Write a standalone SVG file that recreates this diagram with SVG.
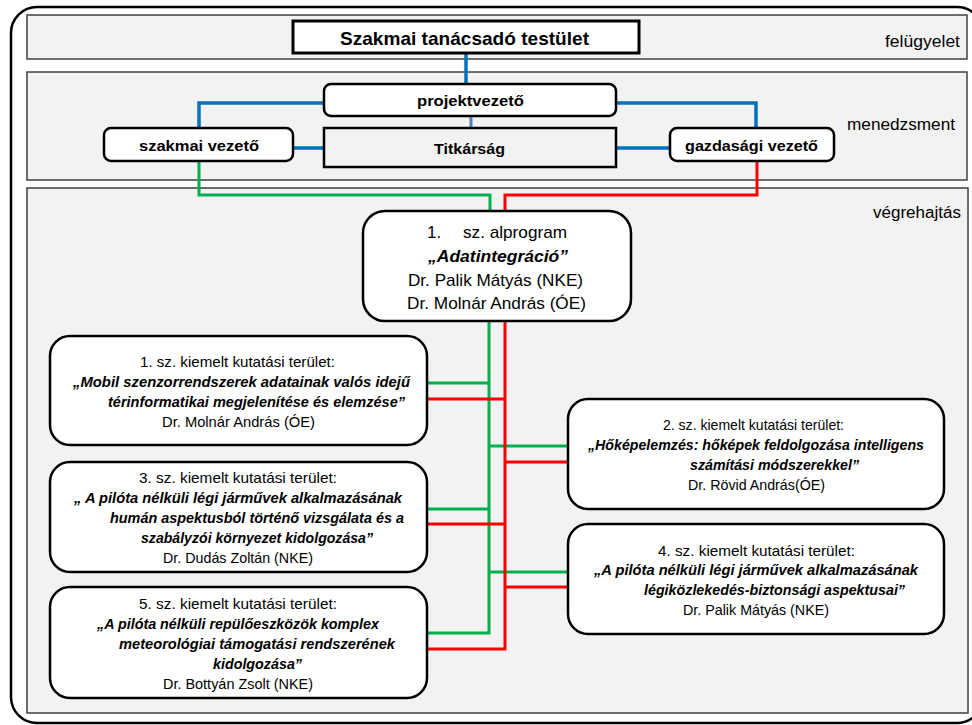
<svg xmlns="http://www.w3.org/2000/svg" width="972" height="725" viewBox="0 0 972 725">
  <style>
    text { font-family: "Liberation Sans", Arial, sans-serif; fill: #000; }
    .band { fill: #f2f2f2; stroke: #404040; stroke-width: 1.5; }
    .box { fill: #fff; stroke: #000; stroke-width: 2.5; }
    .grey { fill: #f2f2f2; stroke: #000; stroke-width: 2.5; }
    .hdr { font-weight: bold; font-size: 15.5px; }
    .lvl { font-size: 16px; }
    .reg { font-size: 15px; }
    .ttl { font-size: 15px; font-weight: bold; font-style: italic; }
    .alp { font-size: 17px; }
    .blue { fill: none; stroke: #0070c0; stroke-width: 3.5; }
    .blue2 { fill: none; stroke: #4f81bd; stroke-width: 3; }
    .green { fill: none; stroke: #00b050; stroke-width: 3; }
    .red { fill: none; stroke: #ff0000; stroke-width: 3; }
  </style>

  <!-- outer frame -->
  <rect x="11" y="7" width="972" height="716" rx="26" fill="#fff" stroke="#000" stroke-width="2.5"/>

  <!-- level bands -->
  <g id="band-felugyelet">
    <rect class="band" x="27" y="15" width="940" height="44"/>
    <text class="lvl" x="885" y="47" textLength="75" lengthAdjust="spacingAndGlyphs">felügyelet</text>
  </g>
  <g id="band-menedzsment">
    <rect class="band" x="27" y="72" width="940" height="108"/>
    <text class="lvl" x="847" y="130" textLength="108" lengthAdjust="spacingAndGlyphs">menedzsment</text>
  </g>
  <g id="band-vegrehajtas">
    <rect class="band" x="27" y="188" width="941" height="525"/>
    <text class="lvl" x="873" y="218" textLength="88" lengthAdjust="spacingAndGlyphs">végrehajtás</text>
  </g>

  <!-- connectors -->
  <g id="connectors">
    <path class="blue" d="M466,53 V84"/>
    <path class="blue" d="M324,103 H199 V128"/>
    <path class="blue" d="M616,103 H756 V128"/>
    <path class="blue" d="M293,148 H324"/>
    <path class="blue" d="M616,148 H670"/>
    <path class="blue2" d="M471,116 V128"/>

    <path class="green" d="M199,161 V195 H490 V211"/>
    <path class="green" d="M489,321 V633 H427"/>
    <path class="green" d="M427,383 H489"/>
    <path class="green" d="M489,446 H568"/>
    <path class="green" d="M427,509 H489"/>
    <path class="green" d="M489,572 H568"/>

    <path class="red" d="M757,161 V195 H505 V211"/>
    <path class="red" d="M505,321 V649 H427"/>
    <path class="red" d="M427,399 H505"/>
    <path class="red" d="M505,462 H568"/>
    <path class="red" d="M427,524 H505"/>
    <path class="red" d="M505,587 H568"/>
  </g>

  <!-- management nodes -->
  <g id="testulet">
    <rect x="293" y="21" width="346" height="32" fill="#fff" stroke="#000" stroke-width="3"/>
    <text x="340" y="45" font-size="19" font-weight="bold" textLength="249" lengthAdjust="spacingAndGlyphs">Szakmai tanácsadó testület</text>
  </g>
  <g id="projektvezeto">
    <rect class="box" x="324" y="84" width="292" height="32" rx="7"/>
    <text class="hdr" x="417" y="106" textLength="107" lengthAdjust="spacingAndGlyphs">projektvezető</text>
  </g>
  <g id="titkarsag">
    <rect class="grey" x="324" y="128" width="292" height="39"/>
    <text class="hdr" x="434" y="154" textLength="71" lengthAdjust="spacingAndGlyphs">Titkárság</text>
  </g>
  <g id="szakmai-vezeto">
    <rect class="box" x="104" y="128" width="189" height="33" rx="7"/>
    <text class="hdr" x="139" y="151" textLength="120" lengthAdjust="spacingAndGlyphs">szakmai vezető</text>
  </g>
  <g id="gazdasagi-vezeto">
    <rect class="box" x="670" y="128" width="164" height="33" rx="7"/>
    <text class="hdr" x="685" y="151" textLength="133" lengthAdjust="spacingAndGlyphs">gazdasági vezető</text>
  </g>

  <!-- sub-programme -->
  <g id="alprogram">
    <rect class="box" x="363" y="211" width="268" height="110" rx="22"/>
    <text class="alp" y="238"><tspan x="427">1.</tspan><tspan x="463" textLength="104" lengthAdjust="spacingAndGlyphs">sz. alprogram</tspan></text>
    <text class="alp" x="428" y="262" font-weight="bold" font-style="italic" textLength="140" lengthAdjust="spacingAndGlyphs">„Adatintegráció”</text>
    <text class="alp" x="408" y="286" textLength="175" lengthAdjust="spacingAndGlyphs">Dr. Palik Mátyás (NKE)</text>
    <text class="alp" x="407" y="309" textLength="179" lengthAdjust="spacingAndGlyphs">Dr. Molnár András (ÓE)</text>
  </g>

  <!-- research areas -->
  <g id="terulet-1">
    <rect class="box" x="50" y="336" width="377" height="109" rx="20"/>
    <text class="reg" x="140" y="367" textLength="195" lengthAdjust="spacingAndGlyphs">1. sz. kiemelt kutatási terület:</text>
    <text class="ttl" x="73" y="387" textLength="337" lengthAdjust="spacingAndGlyphs">„Mobil szenzorrendszerek adatainak valós idejű</text>
    <text class="ttl" x="108" y="407" textLength="297" lengthAdjust="spacingAndGlyphs">térinformatikai megjelenítése és elemzése”</text>
    <text class="reg" x="162" y="427" textLength="153" lengthAdjust="spacingAndGlyphs">Dr. Molnár András (ÓE)</text>
  </g>
  <g id="terulet-2">
    <rect class="box" x="568" y="399" width="376" height="110" rx="20"/>
    <text class="reg" x="663" y="430" textLength="181" lengthAdjust="spacingAndGlyphs">2. sz. kiemelt kutatási terület:</text>
    <text class="ttl" x="588" y="450" textLength="336" lengthAdjust="spacingAndGlyphs">„Hőképelemzés: hőképek feldolgozása intelligens</text>
    <text class="ttl" x="690" y="470" textLength="169" lengthAdjust="spacingAndGlyphs">számítási módszerekkel”</text>
    <text class="reg" x="688" y="490" textLength="137" lengthAdjust="spacingAndGlyphs">Dr. Rövid András(ÓE)</text>
  </g>
  <g id="terulet-3">
    <rect class="box" x="50" y="462" width="377" height="110" rx="20"/>
    <text class="reg" x="139" y="483" textLength="198" lengthAdjust="spacingAndGlyphs">3. sz. kiemelt kutatási terület:</text>
    <text class="ttl" x="74" y="503" textLength="328" lengthAdjust="spacingAndGlyphs">„ A pilóta nélküli légi járművek alkalmazásának</text>
    <text class="ttl" x="110" y="523" textLength="294" lengthAdjust="spacingAndGlyphs">humán aspektusból történő vizsgálata és a</text>
    <text class="ttl" x="141" y="543" textLength="232" lengthAdjust="spacingAndGlyphs">szabályzói környezet kidolgozása”</text>
    <text class="reg" x="163" y="563" textLength="150" lengthAdjust="spacingAndGlyphs">Dr. Dudás Zoltán (NKE)</text>
  </g>
  <g id="terulet-4">
    <rect class="box" x="568" y="524" width="376" height="110" rx="20"/>
    <text class="reg" x="658" y="556" textLength="197" lengthAdjust="spacingAndGlyphs">4. sz. kiemelt kutatási terület:</text>
    <text class="ttl" x="594" y="575" textLength="324" lengthAdjust="spacingAndGlyphs">„A pilóta nélküli légi járművek alkalmazásának</text>
    <text class="ttl" x="644" y="595" textLength="261" lengthAdjust="spacingAndGlyphs">légiközlekedés-biztonsági aspektusai”</text>
    <text class="reg" x="683" y="615" textLength="146" lengthAdjust="spacingAndGlyphs">Dr. Palik Mátyás (NKE)</text>
  </g>
  <g id="terulet-5">
    <rect class="box" x="50" y="587" width="377" height="111" rx="20"/>
    <text class="reg" x="139" y="609" textLength="198" lengthAdjust="spacingAndGlyphs">5. sz. kiemelt kutatási terület:</text>
    <text class="ttl" x="97" y="629" textLength="282" lengthAdjust="spacingAndGlyphs">„A pilóta nélküli repülőeszközök komplex</text>
    <text class="ttl" x="119" y="649" textLength="276" lengthAdjust="spacingAndGlyphs">meteorológiai támogatási rendszerének</text>
    <text class="ttl" x="213" y="669" textLength="89" lengthAdjust="spacingAndGlyphs">kidolgozása”</text>
    <text class="reg" x="163" y="689" textLength="150" lengthAdjust="spacingAndGlyphs">Dr. Bottyán Zsolt (NKE)</text>
  </g>
</svg>
